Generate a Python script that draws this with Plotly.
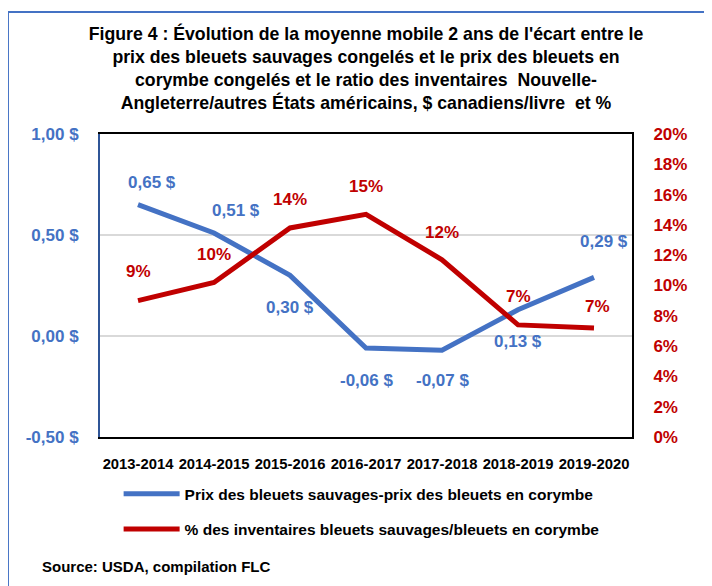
import plotly.graph_objects as go

categories = ["2013-2014", "2014-2015", "2015-2016", "2016-2017", "2017-2018", "2018-2019", "2019-2020"]
price_gap = [0.65, 0.51, 0.30, -0.06, -0.07, 0.13, 0.29]
inventory_pct = [9.0, 10.2, 13.8, 14.7, 11.7, 7.4, 7.2]
left_ticks = [-0.5, 0.0, 0.5, 1.0]
left_tick_labels = ["-0,50 $", "0,00 $", "0,50 $", "1,00 $"]

blue_name = "Prix des bleuets sauvages-prix des bleuets en corymbe"
red_name = "% des inventaires bleuets sauvages/bleuets en corymbe"
title_text = ("Figure 4 : Évolution de la moyenne mobile 2 ans de l'écart entre le<br>"
              "prix des bleuets sauvages congelés et le prix des bleuets en<br>"
              "corymbe congelés et le ratio des inventaires  Nouvelle-<br>"
              "Angleterre/autres États américains, $ canadiens/livre  et %")
source_text = "Source: USDA, compilation FLC"

BLUE = "#4472C4"
RED = "#C00000"
FONT = "Liberation Sans, Arial, sans-serif"

# label offsets (pixels) for data labels
blue_shift = [(14, 22), (22, 22), (0, -32), (0, -32), (0, -30), (0, -32), (10, 36)]
red_shift = [(0, 29), (0, 28), (0, 28), (0, 28), (0, 27), (0, 28), (3, 21)]

fig = go.Figure()
fig.add_trace(go.Scatter(x=categories, y=price_gap, mode="lines", name=blue_name,
                         line=dict(color=BLUE, width=5), legendgroup="a", yaxis="y"))
fig.add_trace(go.Scatter(x=categories, y=inventory_pct, mode="lines", name=red_name,
                         line=dict(color=RED, width=5), legendgroup="b", yaxis="y2"))

annotations = []
for c, v, (dx, dy) in zip(categories, price_gap, blue_shift):
    annotations.append(dict(x=c, y=v, xref="x", yref="y", showarrow=False,
                            text=f"<b>{v:.2f}".replace(".", ",") + " $</b>",
                            xshift=dx, yshift=dy,
                            font=dict(family=FONT, size=17, color=BLUE)))
for c, v, (dx, dy) in zip(categories, inventory_pct, red_shift):
    annotations.append(dict(x=c, y=v, xref="x", yref="y2", showarrow=False,
                            text=f"<b>{int(round(v))}%</b>",
                            xshift=dx, yshift=dy,
                            font=dict(family=FONT, size=17, color=RED)))
annotations.append(dict(x=-0.113, y=-0.426, xref="paper", yref="paper", showarrow=False,
                        xanchor="left", yanchor="middle", text=f"<b>{source_text}</b>",
                        font=dict(family=FONT, size=15, color="black")))

fig.update_layout(
    width=712, height=586,
    margin=dict(l=92, r=88, t=126, b=157, autoexpand=False),
    paper_bgcolor="white", plot_bgcolor="white",
    separators=", ",
    title=dict(text=f"<b>{title_text}</b>", x=0.5, xref="paper", xanchor="center",
               y=1 - 32 / 586, yref="container", yanchor="top",
               font=dict(family=FONT, size=17.7, color="black")),
    xaxis=dict(type="category", range=[-0.5, 6.5], showgrid=False,
               showline=True, linecolor="black", linewidth=2, mirror=True,
               ticks="", tickangle=0, ticklabelstandoff=12,
               tickfont=dict(family=FONT, size=14.8, color="black", weight="bold")),
    yaxis=dict(range=[-0.5, 1.0], tickmode="array", tickvals=left_ticks, ticktext=left_tick_labels,
               showgrid=True, gridcolor="#D9D9D9", gridwidth=2, zeroline=False,
               showline=True, linecolor="#2F5597", linewidth=2,
               ticklabelstandoff=16,
               tickfont=dict(family=FONT, size=17, color=BLUE, weight="bold")),
    yaxis2=dict(range=[0, 20], dtick=2, ticksuffix="%", overlaying="y", side="right",
                showgrid=False, zeroline=False, showline=True, linecolor="black", linewidth=2,
                ticklabelstandoff=16,
                tickfont=dict(family=FONT, size=17, color=RED, weight="bold")),
    showlegend=True,
    legend=dict(orientation="v", x=0.035, y=-0.133, xanchor="left", yanchor="top",
                tracegroupgap=12, itemwidth=56, bgcolor="rgba(0,0,0,0)",
                font=dict(family=FONT, size=15.5, color="black", weight="bold")),
    annotations=annotations,
    shapes=[dict(type="rect", xref="paper", yref="paper",
                 x0=-0.173, x1=1.2, y0=-0.65, y1=1.4026,
                 line=dict(color=BLUE, width=2), layer="below")],
)

fig.write_html("out.html")
